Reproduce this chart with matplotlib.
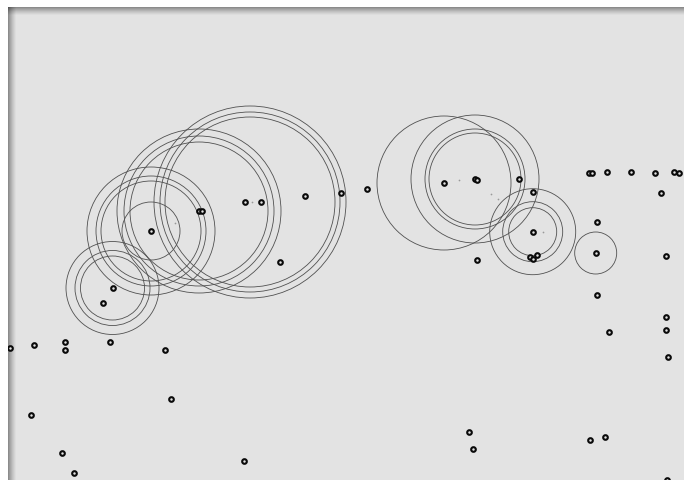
import matplotlib.pyplot as plt
import numpy as np
from matplotlib.patches import Circle, Rectangle

# scattered sites (canvas units, y grows downward)
pt_x = [9.5, 34, 65.4, 64.6, 109.5, 165, 171, 31.4, 62.4, 73.7, 243.5,
        469, 473, 589.8, 604.6, 666.6, 609.4, 666.4, 666, 668.2, 597.3,
        595.7, 597, 666, 661.3, 589, 591.7, 607.3, 631.3, 655.3, 674.3,
        679.3, 532.7, 530, 532.7, 537.3, 532.7, 519.2, 477, 444, 475.3,
        477.3, 367, 340.7, 305, 261, 245, 199, 202, 151.3, 280, 113, 103]
pt_y = [349, 346, 343, 350.5, 343, 350.5, 400, 416, 454, 473.5, 462,
        433, 449.7, 440.7, 438, 480.5, 332.5, 331, 318, 358, 296,
        254, 223, 256.7, 194.3, 174.3, 174.3, 172.7, 172.7, 173.7, 172.7,
        174.3, 232.7, 257.7, 260, 256, 192.5, 180, 260.7, 184, 180,
        181.3, 190, 194.3, 196.5, 203, 203.3, 212, 211.5, 232.3, 263, 289, 304]

# buffer rings: centre and radius
ring_x = [112.5, 112.5, 112.5,
          151, 151, 151, 151,
          199, 199, 199,
          250, 250, 250,
          444,
          475, 475, 475,
          532.7, 532.7, 532.7,
          595.7]
ring_y = [289, 289, 289,
          232, 232, 232, 232,
          212, 212, 212,
          203, 203, 203,
          184,
          180, 180, 180,
          232.7, 232.7, 232.7,
          254]
ring_r = [46.5, 37.5, 32,
          64, 55, 50, 29,
          82, 75, 69,
          96, 90, 85,
          67,
          64, 50, 46,
          43, 30, 24,
          21]

# faint centre marks
mark_x = [251.7, 175, 459.3, 490.7, 498.2, 542.5]
mark_y = [203.3, 223.5, 181, 194.5, 200, 233.3]

W, H = 684, 481
BG = '#e3e3e3'

fig = plt.figure(figsize=(W / 100, H / 100), dpi=100)
fig.patch.set_facecolor('white')
ax = fig.add_axes([0, 0, 1, 1])
ax.axis('off')

panel = Rectangle((8, 8), W - 8, H - 8, facecolor=BG, edgecolor='none', zorder=0)
ax.add_patch(panel)

# soft shadow along the top and left edges
depth = 9
fade = np.linspace(0.48, 0, depth) ** 1.3
top = np.zeros((depth, 1, 4))
top[:, 0, 3] = fade
ax.imshow(top, extent=(8, W, 8 + depth, 8), aspect='auto', zorder=1,
          interpolation='bilinear')
left = np.zeros((1, depth, 4))
left[0, :, 3] = fade
ax.imshow(left, extent=(8, 8 + depth, H, 8), aspect='auto', zorder=1,
          interpolation='bilinear')

for cx, cy, r in zip(ring_x, ring_y, ring_r):
    c = Circle((cx, cy), r, fill=False, edgecolor='#505050', linewidth=0.6, zorder=2)
    ax.add_patch(c)
    c.set_clip_path(panel)

ax.scatter(mark_x, mark_y, s=1.5, color='#999999', linewidths=0, zorder=3)
dots = ax.scatter(pt_x, pt_y, s=11, facecolors=BG, edgecolors='#0a0a0a',
                  linewidths=1.5, zorder=4)
dots.set_clip_path(panel)

ax.set_xlim(0, W)
ax.set_ylim(H, 0)

plt.savefig('out.png', dpi=100, facecolor='white')
